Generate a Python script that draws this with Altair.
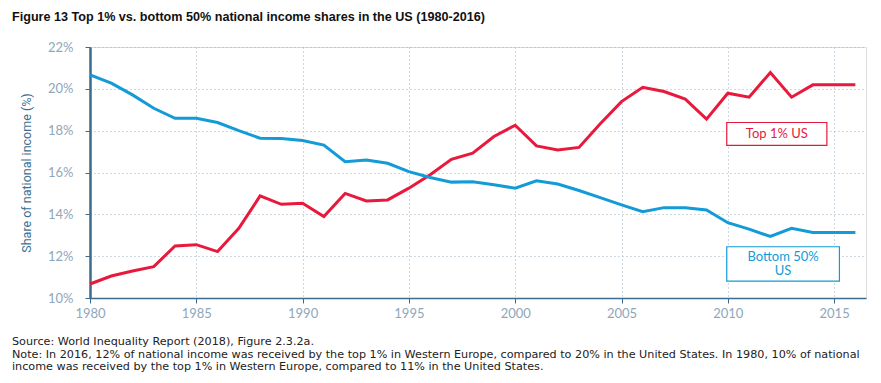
import altair as alt
import pandas as pd

years = list(range(1980, 2017))
top1 = [10.67, 11.05, 11.29, 11.50, 12.49, 12.55, 12.22, 13.33, 14.88, 14.48,
        14.53, 13.89, 15.00, 14.64, 14.69, 15.25, 15.89, 16.63, 16.92, 17.72,
        18.26, 17.27, 17.08, 17.20, 18.33, 19.39, 20.07, 19.87, 19.51, 18.55,
        19.79, 19.60, 20.78, 19.60, 20.19, 20.19, 20.19]
bottom50 = [20.67, 20.27, 19.71, 19.07, 18.59, 18.59, 18.39, 18.00, 17.64, 17.62,
            17.53, 17.31, 16.52, 16.60, 16.44, 16.04, 15.76, 15.54, 15.56, 15.41,
            15.25, 15.60, 15.45, 15.14, 14.80, 14.45, 14.13, 14.32, 14.31, 14.21,
            13.60, 13.29, 12.94, 13.33, 13.13, 13.13, 13.13]
series_names = ["Top 1% US", "Bottom 50% US"]
series_colors = ["#e8193c", "#129bd6"]

title_text = "Figure 13 Top 1% vs. bottom 50% national income shares in the US (1980-2016)"
footer_lines = [
    "Source: World Inequality Report (2018), Figure 2.3.2a.",
    "Note: In 2016, 12% of national income was received by the top 1% in Western Europe, compared to 20% in the United States. In 1980, 10% of national",
    "income was received by the top 1% in Western Europe, compared to 11% in the United States.",
]

# annotation boxes (data coordinates)
box_x = [2009.95, 2009.95]
box_x2 = [2014.66, 2015.25]
box_y = [18.39, 12.45]
box_y2 = [17.30, 10.81]
label_text = ["Top 1% US", "Bottom 50%", "US"]
label_series = ["Top 1% US", "Bottom 50% US", "Bottom 50% US"]
label_x = [(box_x[0] + box_x2[0]) / 2, (box_x[1] + box_x2[1]) / 2, (box_x[1] + box_x2[1]) / 2]
label_y = [17.86, 11.98, 11.29]

rows = []
for i, yr in enumerate(years):
    rows.append({"year": yr, "value": top1[i], "series": series_names[0]})
    rows.append({"year": yr, "value": bottom50[i], "series": series_names[1]})
df = pd.DataFrame(rows)

W, H = 776, 251
xscale = alt.Scale(domain=[1980, 2016.5], nice=False, zero=False)
yscale = alt.Scale(domain=[10, 22], nice=False, zero=False)
color_scale = alt.Scale(domain=series_names, range=series_colors)

axis_col = "#3d6b8b"
label_col = "#8ea7ba"
grid_col = "#9fb2c2"

lines = alt.Chart(df).mark_line(strokeWidth=3, strokeJoin="miter").encode(
    x=alt.X("year:Q", scale=xscale,
            axis=alt.Axis(values=list(range(1980, 2016, 5)), format="d", title=None,
                          grid=True, gridDash=[1, 3], gridColor=grid_col, gridWidth=1,
                          domainColor=axis_col, domainWidth=1.5, tickColor=axis_col,
                          tickSize=5, labelColor=label_col, labelFont="Lato",
                          labelFontSize=13, labelPadding=4, labelFlush=False)),
    y=alt.Y("value:Q", scale=yscale,
            axis=alt.Axis(values=list(range(10, 23, 2)), labelExpr="datum.value + '%'",
                          title="Share of national income (%)",
                          titleFont="Roboto", titleFontSize=12.5,
                          titleFontWeight="normal", titleColor="#3e6f8e",
                          titlePadding=14, labelFlush=False,
                          grid=True, gridDash=[1, 3], gridColor=grid_col, gridWidth=1,
                          domainColor=axis_col, domainWidth=2.5, tickColor=axis_col,
                          tickSize=5, labelColor=label_col, labelFont="Lato",
                          labelFontSize=13, labelPadding=12)),
    color=alt.Color("series:N", scale=color_scale, legend=None),
)

box_df = pd.DataFrame({"x": box_x, "x2": box_x2, "y": box_y, "y2": box_y2,
                       "series": series_names})
boxes = alt.Chart(box_df).mark_rect(fill="white", strokeWidth=1.2).encode(
    x=alt.X("x:Q", scale=xscale), x2="x2:Q",
    y=alt.Y("y:Q", scale=yscale), y2="y2:Q",
    stroke=alt.Color("series:N", scale=color_scale, legend=None),
)

lab_df = pd.DataFrame({"x": label_x, "y": label_y, "text": label_text,
                       "series": label_series})
labels = alt.Chart(lab_df).mark_text(font="Lato", fontSize=13, baseline="middle",
                                     align="center").encode(
    x=alt.X("x:Q", scale=xscale), y=alt.Y("y:Q", scale=yscale),
    text="text:N", color=alt.Color("series:N", scale=color_scale, legend=None),
)

foot_df = pd.DataFrame({"text": [footer_lines]})
footer = alt.Chart(foot_df).mark_text(font="DejaVu Sans", fontSize=11.2,
                                      align="left", baseline="middle", lineHeight=12.5,
                                      color="#222222").encode(
    x=alt.value(-78),
    y=alt.value(295),
    text="text",
)

chart = alt.layer(lines, boxes, labels, footer).properties(
    width=W, height=H,
    autosize=alt.AutoSizeParams(type="none"),
    padding={"left": 82, "top": 39, "right": 7, "bottom": 77},
    title=alt.TitleParams(title_text, anchor="start", frame="group", dx=-78, offset=17,
                          font="Liberation Sans", fontSize=12.6, fontWeight="bold",
                          color="#111111"),
).configure_view(stroke=None).configure(background="white")

chart.save("out.html", embed_options={"renderer": "svg", "actions": False})
